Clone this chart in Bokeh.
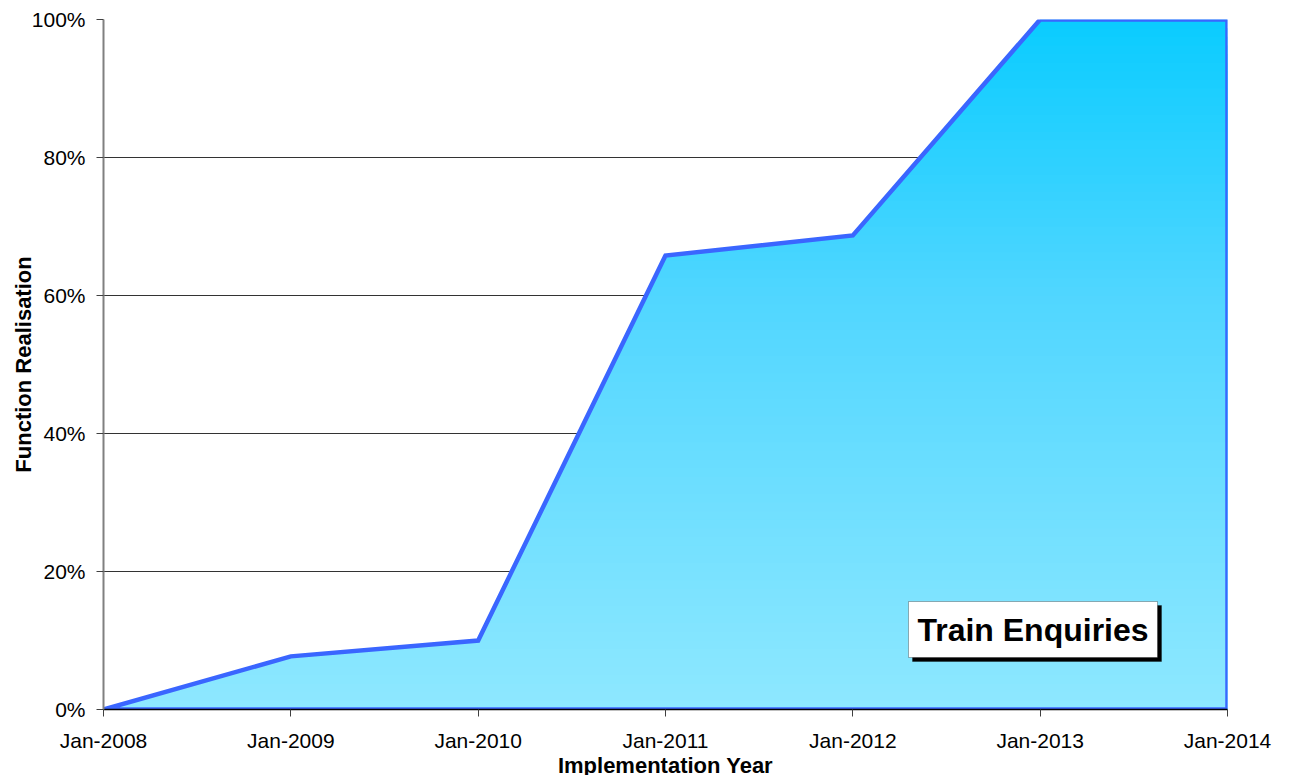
import numpy as np
from bokeh.plotting import figure
from bokeh.models import (FixedTicker, NumeralTickFormatter, Range1d, BoxAnnotation, Label)
from bokeh.embed import file_html
from bokeh.resources import INLINE

# ---- data ----
months = ["Jan-2008", "Jan-2009", "Jan-2010", "Jan-2011", "Jan-2012", "Jan-2013", "Jan-2014"]
realisation = [0.0, 0.077, 0.10, 0.658, 0.687, 1.0, 1.0]
y_ticks = [0.0, 0.2, 0.4, 0.6, 0.8, 1.0]
series_label = "Train Enquiries"

FONT = "Liberation Sans"
FRAME_W, FRAME_H = 1124, 690

xs = np.arange(len(months), dtype=float)
ys = np.array(realisation, dtype=float)

p = figure(output_backend="svg", toolbar_location=None,
           frame_width=FRAME_W, frame_height=FRAME_H,
           x_range=Range1d(0, len(months) - 1), y_range=Range1d(0, 1))
p.min_border_left = 103
p.min_border_right = 56
p.min_border_top = 19
p.min_border_bottom = 64
p.outline_line_color = None
p.background_fill_color = "white"

# ---- gradient area (stacked from top colour to bottom colour, exact breakpoints) ----
n_bands = 80
levels = np.linspace(0, 1, n_bands + 1)[1:]
bx = list(xs)
for i in range(len(xs) - 1):
    y0, y1 = ys[i], ys[i + 1]
    if y0 != y1:
        lo, hi = min(y0, y1), max(y0, y1)
        for L in levels:
            if lo < L < hi:
                bx.append(xs[i] + (L - y0) / (y1 - y0) * (xs[i + 1] - xs[i]))
bx = np.array(sorted(set(bx)))
curve = np.interp(bx, xs, ys)

stops = [(0.0, (142, 232, 255)), (0.6, (80, 214, 255)), (1.0, (10, 204, 255))]
def grad(t):
    for (t0, c0), (t1, c1) in zip(stops[:-1], stops[1:]):
        if t <= t1:
            f = (t - t0) / (t1 - t0)
            return tuple(int(round(a + (b - a) * f)) for a, b in zip(c0, c1))
    return stops[-1][1]

for L in levels[::-1]:
    r, g, b = grad(L - 0.5 / n_bands)
    p.varea(x=bx, y1=np.zeros_like(bx), y2=np.minimum(curve, L),
            fill_color="#%02x%02x%02x" % (r, g, b), fill_alpha=1.0)

# outline of the area
px = list(xs) + [xs[-1]]
py = list(ys) + [0.0]
p.patch(px, py, fill_color=None, line_color="#3A66FF", line_width=4.5, line_join="miter")

# ---- axes ----
p.xaxis.ticker = FixedTicker(ticks=list(xs))
p.xaxis.major_label_overrides = {float(i): m for i, m in enumerate(months)}
p.xaxis.major_label_overrides.update({int(i): m for i, m in enumerate(months)})
p.yaxis.ticker = FixedTicker(ticks=y_ticks)
p.yaxis.formatter = NumeralTickFormatter(format="0%")

for ax in (p.xaxis, p.yaxis):
    ax.major_label_text_font = FONT
    ax.major_label_text_font_size = "21px"
    ax.major_label_text_color = "black"
    ax.major_label_text_line_height = 1.0
    ax.axis_label_text_font = FONT
    ax.axis_label_text_font_size = "22px"
    ax.axis_label_text_font_style = "bold"
    ax.axis_label_text_color = "black"
    ax.axis_label_text_line_height = 1.0
    ax.minor_tick_line_color = None
    ax.major_tick_out = 7
    ax.major_tick_in = 0
    ax.major_tick_line_color = "#404040"

p.xaxis.axis_label = "Implementation Year"
p.yaxis.axis_label = "Function Realisation"
p.xaxis.axis_line_color = "black"
p.xaxis.axis_line_width = 1.5
p.yaxis.axis_line_color = "#808080"
p.yaxis.axis_line_width = 2
p.xaxis.major_label_standoff = 12
p.yaxis.major_label_standoff = 11
p.xaxis.axis_label_standoff = -2
p.yaxis.axis_label_standoff = -7

p.xgrid.grid_line_color = None
p.ygrid.grid_line_color = "#333333"
p.ygrid.grid_line_width = 1

# ---- series label box with shadow ----
XPP = (len(months) - 1) / FRAME_W
YPP = 1.0 / FRAME_H
def dx(px_):
    return (px_ - 103) * XPP
def dy(py_):
    return (709 - py_) * YPP

p.add_layout(BoxAnnotation(left=dx(912), right=dx(1161), top=dy(605), bottom=dy(661),
                           fill_color="black", fill_alpha=1.0, line_color="black"))
p.add_layout(BoxAnnotation(left=dx(908), right=dx(1157), top=dy(601), bottom=dy(657),
                           fill_color="white", fill_alpha=1.0, line_color="black", line_width=1))
p.add_layout(Label(x=dx(1032.5), y=dy(629.5), text=series_label, text_font=FONT,
                   text_font_size="32px", text_font_style="bold", text_color="black",
                   text_align="center", text_baseline="middle"))

open("out.html", "w").write(file_html(p, INLINE))
